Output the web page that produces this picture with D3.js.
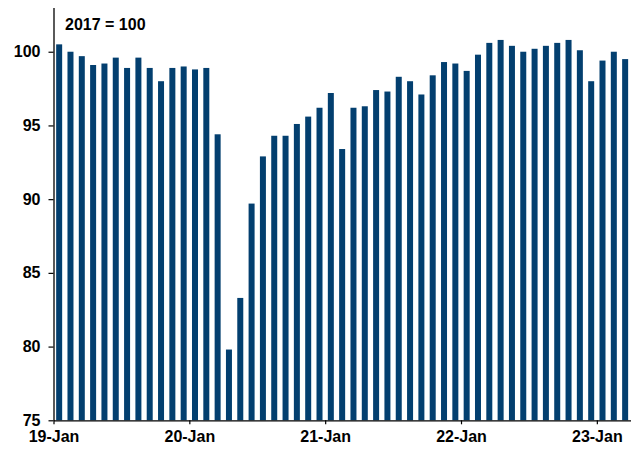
<!DOCTYPE html>
<html>
<head>
<meta charset="utf-8">
<script src="https://cdn.jsdelivr.net/npm/d3@7"></script>
<style>
  html, body { margin: 0; padding: 0; background: #ffffff; }
  svg { display: block; font-family: "Liberation Sans", Arial, sans-serif; }
</style>
</head>
<body>
<svg id="chart" width="631" height="449"></svg>
<script>
// Monthly index, Jan 2019 – Mar 2023 (2017 = 100)
const months = [
  "2019-01","2019-02","2019-03","2019-04","2019-05","2019-06","2019-07","2019-08","2019-09","2019-10","2019-11","2019-12",
  "2020-01","2020-02","2020-03","2020-04","2020-05","2020-06","2020-07","2020-08","2020-09","2020-10","2020-11","2020-12",
  "2021-01","2021-02","2021-03","2021-04","2021-05","2021-06","2021-07","2021-08","2021-09","2021-10","2021-11","2021-12",
  "2022-01","2022-02","2022-03","2022-04","2022-05","2022-06","2022-07","2022-08","2022-09","2022-10","2022-11","2022-12",
  "2023-01","2023-02","2023-03"
];
const values = [
  100.5, 100.0, 99.7, 99.1, 99.2, 99.6, 98.9, 99.6, 98.9, 98.0, 98.9, 99.0,
  98.8, 98.9, 94.4, 79.8, 83.3, 89.7, 92.9, 94.3, 94.3, 95.1, 95.6, 96.2,
  97.2, 93.4, 96.2, 96.3, 97.4, 97.3, 98.3, 98.0, 97.1, 98.4, 99.3, 99.2,
  98.7, 99.8, 100.6, 100.8, 100.4, 100.0, 100.2, 100.4, 100.6, 100.8, 100.1, 98.0,
  99.4, 100.0, 99.5
];
const yTicks = [75, 80, 85, 90, 95, 100];
const xTickIndex = [0, 12, 24, 36, 48];
const xTickLabels = ["19-Jan", "20-Jan", "21-Jan", "22-Jan", "23-Jan"];
const baseNote = "2017 = 100";

const svg = d3.select("#chart");
const plotLeft = 53.5, plotRight = 630.8, plotTop = 7.5, plotBottom = 420.3;
const barColor = "#033f6f";

const x = d3.scaleBand().domain(months).range([plotLeft, plotRight]).paddingInner(0.47).paddingOuter(0.235);
const xIdx = d3.scaleLinear().domain([0, months.length]).range([plotLeft, plotRight]);
const y = d3.scaleLinear().domain([75, 103]).range([plotBottom, plotTop]);

svg.append("g")
  .selectAll("rect")
  .data(values)
  .join("rect")
  .attr("x", (d, i) => x(months[i]))
  .attr("width", x.bandwidth())
  .attr("y", d => y(d))
  .attr("height", d => y(75) - y(d))
  .attr("fill", barColor);

// Y axis
const yAxis = svg.append("g")
  .attr("transform", `translate(${plotLeft},0)`)
  .call(d3.axisLeft(y).tickValues(yTicks).tickSize(5).tickSizeOuter(0).tickPadding(8));
yAxis.select(".domain").attr("stroke", "#000").attr("stroke-width", 1.3);
yAxis.selectAll(".tick line").attr("stroke", "#000").attr("stroke-width", 1.2);
yAxis.selectAll("text")
  .attr("font-size", 16).attr("font-weight", "bold").attr("fill", "#000")
  .attr("font-family", "'Liberation Sans', Arial, sans-serif");

// X axis
const xAxis = svg.append("g")
  .attr("transform", `translate(0,${plotBottom})`)
  .call(d3.axisBottom(xIdx).tickValues(xTickIndex).tickFormat((d, i) => xTickLabels[i])
    .tickSize(4).tickSizeOuter(0).tickPadding(6));
xAxis.select(".domain").attr("stroke", "#000").attr("stroke-width", 1.3);
xAxis.selectAll(".tick line").attr("stroke", "#000").attr("stroke-width", 1.2);
xAxis.selectAll("text")
  .attr("font-size", 16).attr("font-weight", "bold").attr("fill", "#000")
  .attr("font-family", "'Liberation Sans', Arial, sans-serif");

// Base-year note
svg.append("text")
  .attr("x", 65).attr("y", 29.5)
  .attr("font-size", 16).attr("font-weight", "bold").attr("fill", "#000")
  .text(baseNote);
</script>
</body>
</html>
